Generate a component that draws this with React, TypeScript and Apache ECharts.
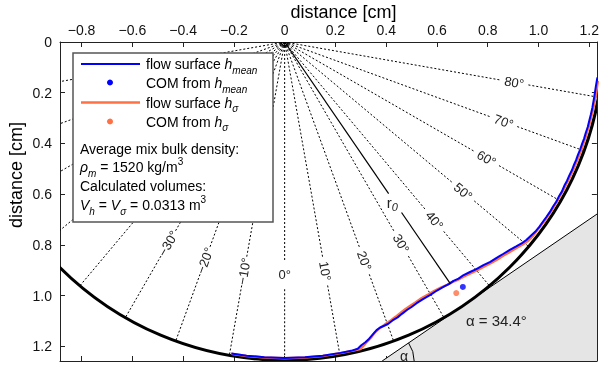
import React, { useEffect, useRef } from 'react';
import * as echarts from 'echarts';

const FONT = 'Liberation Sans, Arial, Helvetica, sans-serif';

// axes
const X_MIN = -0.885;
const X_MAX = 1.23;
const Y_MIN = 0;
const Y_MAX = 1.258;
const xTickValues = [-0.8, -0.6, -0.4, -0.2, 0, 0.2, 0.4, 0.6, 0.8, 1.0, 1.2];
const yTickValues = [0, 0.2, 0.4, 0.6, 0.8, 1.0, 1.2];

// geometry
const R = 1.255; // drum radius
const ALPHA = 34.4; // dynamic angle of repose (deg)
const radialAngles = [-80, -70, -60, -50, -40, -30, -20, -10, 0, 10, 20, 30, 40, 50, 60, 70, 80];
const labeledAngles = [-30, -20, -10, 0, 10, 20, 30, 40, 50, 60, 70, 80];
const LABEL_R = 0.918;
const GAP_IN = 0.86;
const GAP_OUT = 0.975;
const R0_GAP_IN = 0.725;
const R0_GAP_OUT = 0.815;
const R0_LABEL = 0.765;
const R0_END = 1.155;

// flow surface h_mean (blue)
const flowMean: number[][] = [
  [-0.21, 1.228], [-0.15, 1.237], [-0.08, 1.243], [0.0, 1.246], [0.08, 1.243], [0.15, 1.237],
  [0.22, 1.226], [0.262, 1.218], [0.288, 1.21], [0.302, 1.196], [0.318, 1.184], [0.333, 1.17],
  [0.35, 1.15], [0.362, 1.136], [0.376, 1.126], [0.392, 1.119], [0.407, 1.112], [0.425, 1.098],
  [0.445, 1.086], [0.462, 1.072], [0.483, 1.056], [0.5, 1.045], [0.52, 1.03], [0.545, 1.014],
  [0.574, 0.997], [0.6, 0.98], [0.627, 0.965], [0.648, 0.954], [0.665, 0.942], [0.685, 0.933],
  [0.705, 0.919], [0.73, 0.907], [0.755, 0.896], [0.783, 0.88], [0.81, 0.867], [0.835, 0.851],
  [0.862, 0.835], [0.887, 0.82], [0.912, 0.806], [0.935, 0.793], [0.952, 0.781], [0.972, 0.762],
  [0.99, 0.745], [1.004, 0.728], [1.018, 0.708], [1.031, 0.69], [1.045, 0.67], [1.058, 0.648],
  [1.07, 0.63], [1.082, 0.606], [1.092, 0.59], [1.102, 0.566], [1.112, 0.548], [1.122, 0.525],
  [1.132, 0.505], [1.14, 0.484], [1.148, 0.466], [1.155, 0.446], [1.164, 0.424], [1.172, 0.401],
  [1.18, 0.38], [1.186, 0.359], [1.194, 0.335], [1.2, 0.311], [1.206, 0.287], [1.212, 0.26],
  [1.22, 0.215], [1.226, 0.175], [1.232, 0.14],
];

// flow surface h_sigma (orange)
const flowSigma: number[][] = [
  [-0.21, 1.229], [-0.15, 1.238], [-0.08, 1.244], [0.0, 1.247], [0.08, 1.244], [0.15, 1.238],
  [0.22, 1.227], [0.27, 1.217], [0.298, 1.211], [0.31, 1.198], [0.325, 1.182], [0.34, 1.166],
  [0.355, 1.146], [0.37, 1.132], [0.385, 1.122], [0.4, 1.11], [0.418, 1.098], [0.437, 1.084],
  [0.455, 1.07], [0.475, 1.054], [0.495, 1.04], [0.515, 1.027], [0.54, 1.01], [0.565, 0.996],
  [0.59, 0.981], [0.615, 0.969], [0.64, 0.958], [0.66, 0.947], [0.68, 0.939], [0.705, 0.925],
  [0.73, 0.913], [0.757, 0.901], [0.785, 0.886], [0.812, 0.872], [0.838, 0.857], [0.864, 0.841],
  [0.89, 0.826], [0.915, 0.811], [0.938, 0.798], [0.957, 0.786], [0.977, 0.766], [0.995, 0.742],
  [1.01, 0.722], [1.025, 0.705], [1.038, 0.684], [1.052, 0.664], [1.065, 0.641], [1.077, 0.622],
  [1.088, 0.601], [1.099, 0.582], [1.109, 0.561], [1.119, 0.543], [1.129, 0.52], [1.138, 0.502],
  [1.147, 0.479], [1.155, 0.461], [1.162, 0.442], [1.17, 0.422], [1.178, 0.397], [1.186, 0.374],
  [1.193, 0.35], [1.2, 0.327], [1.207, 0.298], [1.213, 0.274], [1.219, 0.245], [1.226, 0.207],
  [1.234, 0.153],
];

const comMean: number[][] = [[0.702, 0.966]];
const comSigma: number[][] = [[0.676, 0.99]];

const RHO_M = 1520;
const VOLUME = 0.0313;

const BLUE = '#0000ff';
const ORANGE = '#ff7043';

const fmtX = (v: number) => (Math.abs(v) < 1e-9 ? '0' : (v < 0 ? '\u2212' : '') + Math.abs(v).toFixed(1));
const fmtY = (v: number) => (Math.abs(v) < 1e-9 ? '0' : v.toFixed(1));

const rich = {
  n: { fontFamily: FONT, fontSize: 14, fill: '#000', lineHeight: 22 },
  i: { fontFamily: FONT, fontSize: 14, fontStyle: 'italic', fill: '#000', lineHeight: 22 },
  s: { fontFamily: FONT, fontSize: 10, fontStyle: 'italic', fill: '#000', lineHeight: 10, verticalAlign: 'bottom' },
  p: { fontFamily: FONT, fontSize: 10, fill: '#000', lineHeight: 10, verticalAlign: 'top' },
};

const ZL = 100;

function richText(text: string, x: number, y: number) {
  return {
    type: 'text',
    z: ZL + 2,
    x,
    y,
    style: { text, align: 'left', verticalAlign: 'middle', rich, font: `14px ${FONT}` },
  };
}

function buildOption(): any {
  const axisCommon = {
    type: 'value',
    splitLine: { show: false },
    axisLine: { show: true, onZero: false, lineStyle: { color: '#222', width: 1 } },
  };
  const ar = (ALPHA * Math.PI) / 180;
  const sa = Math.sin(ar);
  const ca = Math.cos(ar);

  return {
    animation: false,
    grid: { left: 60, top: 42, right: 1, bottom: 6, containLabel: false },
    xAxis: [
      {
        ...axisCommon,
        position: 'top',
        min: X_MIN,
        max: X_MAX,
        axisTick: { show: true, inside: true, length: 5, customValues: xTickValues, lineStyle: { color: '#222' } },
        axisLabel: { customValues: xTickValues, formatter: fmtX, margin: 5, fontFamily: FONT, fontSize: 14, color: '#111' },
      },
      {
        ...axisCommon,
        position: 'bottom',
        min: X_MIN,
        max: X_MAX,
        axisTick: { show: true, inside: true, length: 5, customValues: xTickValues, lineStyle: { color: '#222' } },
        axisLabel: { show: false },
      },
    ],
    yAxis: [
      {
        ...axisCommon,
        position: 'left',
        inverse: true,
        min: Y_MIN,
        max: Y_MAX,
        axisTick: { show: true, inside: true, length: 5, customValues: yTickValues, lineStyle: { color: '#222' } },
        axisLabel: { customValues: yTickValues, formatter: fmtY, margin: 8, fontFamily: FONT, fontSize: 14, color: '#111' },
      },
      {
        ...axisCommon,
        position: 'right',
        inverse: true,
        min: Y_MIN,
        max: Y_MAX,
        axisTick: { show: true, inside: true, length: 5, customValues: yTickValues, lineStyle: { color: '#222' } },
        axisLabel: { show: false },
      },
    ],
    series: [
      // incline (gray region + tangent line + angle arc + labels)
      {
        type: 'custom',
        z: 1,
        clip: true,
        data: [[0, 0]],
        renderItem: (params: any, api: any) => {
          const yb = Y_MAX;
          const u0 = (R * ca - yb) / sa;
          const vx = R * sa + u0 * ca;
          const uF = 3;
          const fx = R * sa + uF * ca;
          const fy = R * ca - uF * sa;
          const V = api.coord([vx, yb]);
          const F = api.coord([fx, fy]);
          const G = api.coord([fx, yb]);
          const txt = api.coord([0.714, 1.098]);
          return {
            type: 'group',
            children: [
              { type: 'polygon', shape: { points: [V, F, G] }, style: { fill: '#e5e5e5', stroke: 'none' } },
              { type: 'line', shape: { x1: V[0], y1: V[1], x2: F[0], y2: F[1] }, style: { stroke: '#000', lineWidth: 1 } },
              { type: 'arc', shape: { cx: V[0], cy: V[1], r: 32, startAngle: -ar, endAngle: 0, clockwise: true }, style: { stroke: '#000', lineWidth: 1, fill: 'none' } },
              { type: 'text', x: V[0] + 22, y: V[1] - 5, style: { text: '\u03b1', font: `14px ${FONT}`, fill: '#222', align: 'center', verticalAlign: 'middle' } },
              { type: 'text', x: txt[0], y: txt[1], style: { text: `\u03b1 = ${ALPHA}\u00b0`, font: `15px ${FONT}`, fill: '#222', align: 'left', verticalAlign: 'middle' } },
            ],
          };
        },
      },
      // radial dashed lines with angle labels
      {
        type: 'custom',
        z: 2,
        clip: true,
        data: radialAngles.map((a) => [a, labeledAngles.includes(a) ? 1 : 0]),
        renderItem: (params: any, api: any) => {
          const a = api.value(0) as number;
          const labeled = api.value(1) === 1;
          const rad = (a * Math.PI) / 180;
          const s = Math.sin(rad);
          const c = Math.cos(rad);
          const P = (r: number) => api.coord([r * s, r * c]);
          const ls = { stroke: '#000', lineWidth: 1, lineDash: [2, 2], fill: 'none' };
          const p0 = P(0);
          const children: any[] = [];
          if (labeled) {
            const p1 = P(GAP_IN);
            const p2 = P(GAP_OUT);
            const p3 = P(R);
            const pl = P(LABEL_R);
            children.push({ type: 'line', shape: { x1: p0[0], y1: p0[1], x2: p1[0], y2: p1[1] }, style: ls });
            children.push({ type: 'line', shape: { x1: p2[0], y1: p2[1], x2: p3[0], y2: p3[1] }, style: ls });
            const rot = a === 0 ? 0 : a > 0 ? a - 90 : a + 90;
            children.push({
              type: 'text',
              x: pl[0],
              y: pl[1],
              rotation: (rot * Math.PI) / 180,
              style: {
                text: `${a < 0 ? '\u2212' : ''}${Math.abs(a)}\u00b0`,
                font: `13px ${FONT}`,
                fill: '#222',
                align: 'center',
                verticalAlign: 'middle',
              },
            });
          } else {
            const p3 = P(R);
            children.push({ type: 'line', shape: { x1: p0[0], y1: p0[1], x2: p3[0], y2: p3[1] }, style: ls });
          }
          return { type: 'group', children };
        },
      },
      // drum circle + center mark
      {
        type: 'custom',
        z: 3,
        clip: true,
        data: [[0, 0]],
        renderItem: (params: any, api: any) => {
          const c = api.coord([0, 0]);
          const sz = api.size([R, R]);
          return {
            type: 'group',
            children: [
              { type: 'ellipse', shape: { cx: c[0], cy: c[1], rx: Math.abs(sz[0]), ry: Math.abs(sz[1]) }, style: { fill: 'none', stroke: '#000', lineWidth: 3 } },
              { type: 'circle', shape: { cx: c[0], cy: c[1], r: 3.5 }, style: { fill: 'none', stroke: '#000', lineWidth: 1.5 } },
            ],
          };
        },
      },
      {
        type: 'line',
        z: 4,
        data: flowSigma,
        showSymbol: false,
        symbol: 'none',
        clip: true,
        lineStyle: { color: ORANGE, width: 2.5 },
      },
      {
        type: 'line',
        z: 5,
        data: flowMean,
        showSymbol: false,
        symbol: 'none',
        clip: true,
        lineStyle: { color: BLUE, width: 2 },
      },
      // r0 line
      {
        type: 'custom',
        z: 6,
        clip: true,
        data: [[0, 0]],
        renderItem: (params: any, api: any) => {
          const P = (r: number) => api.coord([r * sa, r * ca]);
          const a0 = P(0);
          const a1 = P(R0_GAP_IN);
          const a2 = P(R0_GAP_OUT);
          const a3 = P(R0_END);
          const al = P(R0_LABEL);
          return {
            type: 'group',
            children: [
              { type: 'line', shape: { x1: a0[0], y1: a0[1], x2: a1[0], y2: a1[1] }, style: { stroke: '#000', lineWidth: 1.2 } },
              { type: 'line', shape: { x1: a2[0], y1: a2[1], x2: a3[0], y2: a3[1] }, style: { stroke: '#000', lineWidth: 1.2 } },
              {
                type: 'text',
                x: al[0] - 2,
                y: al[1],
                style: {
                  text: '{r|r}{s|0}',
                  align: 'center',
                  verticalAlign: 'middle',
                  rich: {
                    r: { fontFamily: FONT, fontSize: 15, fill: '#222', lineHeight: 20 },
                    s: { fontFamily: FONT, fontSize: 11, fontStyle: 'italic', fill: '#222', lineHeight: 11, verticalAlign: 'bottom' },
                  },
                },
              },
            ],
          };
        },
      },
      {
        type: 'scatter',
        z: 7,
        data: comSigma,
        symbol: 'circle',
        symbolSize: 6,
        itemStyle: { color: ORANGE },
      },
      {
        type: 'scatter',
        z: 7,
        data: comMean,
        symbol: 'circle',
        symbolSize: 6,
        itemStyle: { color: BLUE },
      },
    ],
    graphic: [
      { type: 'text', x: 343.5, y: 12, z: ZL, style: { text: 'distance [cm]', font: `18px ${FONT}`, fill: '#000', align: 'center', verticalAlign: 'middle' } },
      { type: 'text', x: 16, y: 175, z: ZL, rotation: Math.PI / 2, style: { text: 'distance [cm]', font: `18px ${FONT}`, fill: '#000', align: 'center', verticalAlign: 'middle' } },
      { type: 'rect', z: ZL, shape: { x: 73, y: 53, width: 200, height: 169 }, style: { fill: '#ffffff', stroke: '#555', lineWidth: 1.5 } },
      { type: 'line', z: ZL + 1, shape: { x1: 81, y1: 64, x2: 140, y2: 64 }, style: { stroke: BLUE, lineWidth: 2 } },
      { type: 'circle', z: ZL + 1, shape: { cx: 110, cy: 82.5, r: 3 }, style: { fill: BLUE } },
      { type: 'line', z: ZL + 1, shape: { x1: 81, y1: 102.5, x2: 140, y2: 102.5 }, style: { stroke: ORANGE, lineWidth: 2.5 } },
      { type: 'circle', z: ZL + 1, shape: { cx: 110, cy: 121.5, r: 3 }, style: { fill: ORANGE } },
      richText('{n|flow surface }{i|h}{s|mean}', 146, 64),
      richText('{n|COM from }{i|h}{s|mean}', 146, 83),
      richText('{n|flow surface }{i|h}{s|\u03c3}', 146, 102.5),
      richText('{n|COM from }{i|h}{s|\u03c3}', 146, 121.5),
      richText('{n|Average mix bulk density:}', 80, 148.5),
      richText(`{i|\u03c1}{s|m}{n| = ${RHO_M} kg/m}{p|3}`, 80, 167),
      richText('{n|Calculated volumes:}', 80, 186),
      richText(`{i|V}{s|h}{n| = }{i|V}{s|\u03c3}{n| = ${VOLUME} m}{p|3}`, 80, 205),
    ],
  };
}

export default function App() {
  const ref = useRef<HTMLDivElement>(null);
  useEffect(() => {
    if (!ref.current) return;
    const chart = echarts.init(ref.current, null, { renderer: 'svg' });
    chart.setOption(buildOption());
    return () => chart.dispose();
  }, []);
  return <div ref={ref} style={{ position: 'fixed', left: 0, top: 0, width: 602, height: 367 }} />;
}
